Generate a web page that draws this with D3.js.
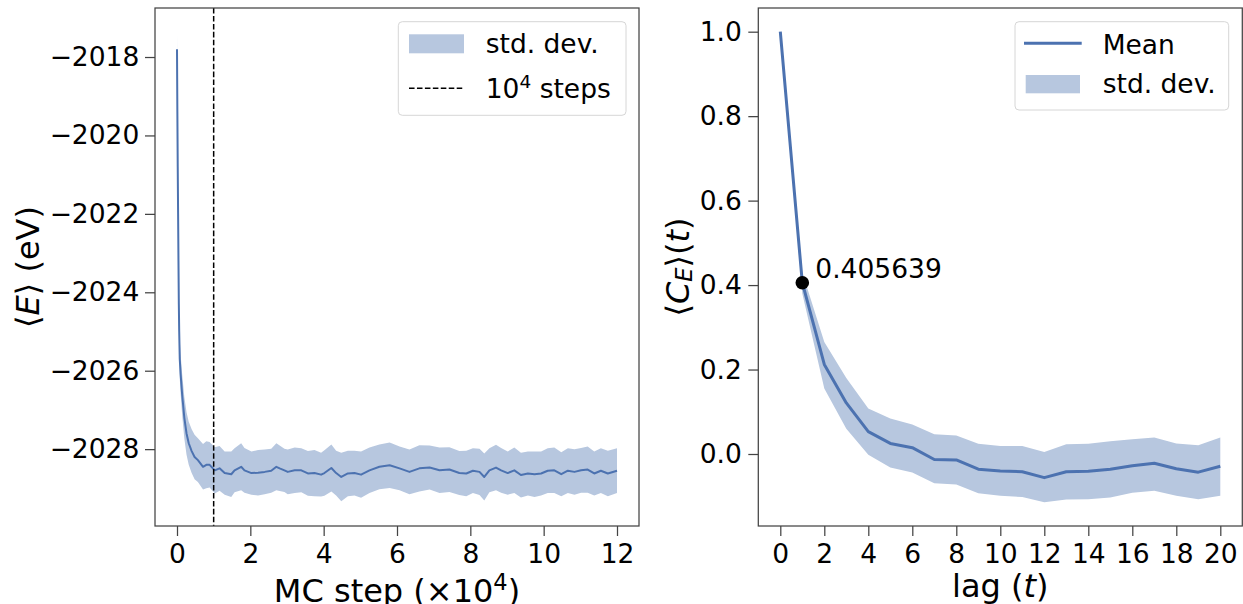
<!DOCTYPE html>
<html>
<head>
<meta charset="utf-8">
<script src="https://cdn.jsdelivr.net/npm/d3@7"></script>
<style>
  html, body { margin: 0; padding: 0; background: #fff; }
  svg { display: block; }
  text { font-family: "DejaVu Sans", sans-serif; fill: #000; }
</style>
</head>
<body>
<svg id="chart" width="1243" height="604"></svg>
<script>
// ---------- Left panel data: MC step (x10^4), mean energy (eV), std (eV) ----------
const mcSteps = [
  0, 0.01, 0.02, 0.03, 0.04, 0.05, 0.06, 0.075, 0.1, 0.14,
  0.2, 0.26, 0.32, 0.4, 0.48, 0.57, 0.71, 0.8, 0.89, 1.03,
  1.16, 1.30, 1.48, 1.57, 1.75, 1.84, 2.03, 2.21, 2.39, 2.57,
  2.71, 2.80, 2.93, 3.02, 3.21, 3.39, 3.57, 3.75, 3.93, 4.02,
  4.21, 4.34, 4.48, 4.66, 4.84, 5.02, 5.25, 5.52, 5.80, 6.07,
  6.34, 6.61, 6.89, 7.16, 7.43, 7.70, 7.89, 8.07, 8.25, 8.38,
  8.52, 8.70, 8.84, 9.02, 9.20, 9.38, 9.57, 9.75, 9.93, 10.11,
  10.29, 10.48, 10.66, 10.84, 11.02, 11.20, 11.38, 11.56, 11.75, 12.0
];
const energyMean = [
  -2017.80, -2019.40, -2020.80, -2022.00, -2023.20, -2024.30, -2025.00, -2025.70, -2026.10, -2026.60,
  -2027.20, -2027.60, -2027.85, -2028.05, -2028.20, -2028.28, -2028.45, -2028.40, -2028.40, -2028.54,
  -2028.49, -2028.61, -2028.64, -2028.54, -2028.45, -2028.54, -2028.61, -2028.60, -2028.58, -2028.55,
  -2028.45, -2028.49, -2028.54, -2028.58, -2028.54, -2028.54, -2028.62, -2028.61, -2028.65, -2028.61,
  -2028.48, -2028.61, -2028.71, -2028.62, -2028.61, -2028.65, -2028.54, -2028.45, -2028.41, -2028.49,
  -2028.58, -2028.49, -2028.47, -2028.54, -2028.52, -2028.61, -2028.62, -2028.55, -2028.58, -2028.71,
  -2028.54, -2028.47, -2028.54, -2028.61, -2028.54, -2028.66, -2028.62, -2028.64, -2028.62, -2028.55,
  -2028.54, -2028.64, -2028.55, -2028.58, -2028.54, -2028.52, -2028.62, -2028.55, -2028.62, -2028.55
];
const energyStd = [
  0.40, 0.42, 0.44, 0.45, 0.46, 0.47, 0.48, 0.49, 0.50, 0.52,
  0.53, 0.54, 0.55, 0.56, 0.57, 0.56, 0.58, 0.60, 0.58, 0.59,
  0.57, 0.55, 0.58, 0.56, 0.60, 0.57, 0.55, 0.58, 0.57, 0.56,
  0.60, 0.58, 0.55, 0.57, 0.58, 0.56, 0.57, 0.59, 0.56, 0.58,
  0.60, 0.57, 0.62, 0.58, 0.57, 0.59, 0.58, 0.57, 0.58, 0.56,
  0.57, 0.59, 0.56, 0.58, 0.57, 0.56, 0.58, 0.57, 0.59, 0.60,
  0.56, 0.58, 0.57, 0.55, 0.58, 0.57, 0.56, 0.58, 0.56, 0.57,
  0.58, 0.56, 0.57, 0.58, 0.57, 0.59, 0.56, 0.57, 0.58, 0.57
];
const equilStep = 1.0;
const leftXTicks = [0, 2, 4, 6, 8, 10, 12];
const leftYTicks = [-2028, -2026, -2024, -2022, -2020, -2018];

// ---------- Right panel data: autocorrelation vs lag ----------
const lags = [0, 1, 2, 3, 4, 5, 6, 7, 8, 9, 10, 11, 12, 13, 14, 15, 16, 17, 18, 19, 20];
const corrMean  = [1.0, 0.405639, 0.212, 0.121, 0.053, 0.025, 0.015, -0.013, -0.014, -0.036, -0.040, -0.042, -0.056, -0.042, -0.041, -0.036, -0.028, -0.022, -0.035, -0.043, -0.029];
const corrUpper = [1.0, 0.430, 0.265, 0.180, 0.108, 0.084, 0.070, 0.047, 0.044, 0.024, 0.019, 0.019, 0.005, 0.023, 0.024, 0.030, 0.035, 0.039, 0.025, 0.021, 0.039];
const corrLower = [1.0, 0.380, 0.155, 0.060, -0.002, -0.032, -0.044, -0.069, -0.072, -0.093, -0.099, -0.102, -0.114, -0.108, -0.107, -0.103, -0.092, -0.087, -0.099, -0.107, -0.099];
const markedLag = 1;
const rightXTicks = [0, 2, 4, 6, 8, 10, 12, 14, 16, 18, 20];
const rightYTicks = [0.0, 0.2, 0.4, 0.6, 0.8, 1.0];

// ---------- Styling ----------
const lineColor = "#4c72b0";
const bandColor = "#b7c7df";
const spineColor = "#444";
const tickFont = 26.5;
const labelFont = 32;

const svg = d3.select("#chart");

const L = { left: 155, right: 639, top: 8, bottom: 526 };
const R = { left: 758.3, right: 1242.3, top: 8, bottom: 526 };

const xL = d3.scaleLinear().domain([-0.6, 12.6]).range([L.left, L.right]);
const yL = d3.scaleLinear().domain([-2029.96, -2016.75]).range([L.bottom, L.top]);
const xR = d3.scaleLinear().domain([-1, 21]).range([R.left, R.right]);
const yR = d3.scaleLinear().domain([-0.1705, 1.0561]).range([R.bottom, R.top]);

function styleAxis(g) {
  g.select(".domain").remove();
  g.selectAll(".tick line").attr("stroke", spineColor).attr("stroke-width", 1.25);
  g.selectAll(".tick text").attr("font-size", tickFont).attr("fill", "#000")
    .attr("font-family", "DejaVu Sans, sans-serif");
}

// ===== Left panel =====
const leftData = mcSteps.map((s, i) => ({ s, m: energyMean[i], sd: energyStd[i] }));

svg.append("path")
  .datum(leftData)
  .attr("fill", bandColor)
  .attr("d", d3.area().x(d => xL(d.s)).y0(d => yL(d.m - d.sd)).y1(d => yL(d.m + d.sd)));

svg.append("path")
  .datum(leftData)
  .attr("fill", "none")
  .attr("stroke", lineColor)
  .attr("stroke-width", 2)
  .attr("stroke-linejoin", "round")
  .attr("d", d3.line().x(d => xL(d.s)).y(d => yL(d.m)));

svg.append("line")
  .attr("x1", xL(equilStep)).attr("x2", xL(equilStep))
  .attr("y1", L.top).attr("y2", L.bottom)
  .attr("stroke", "#000").attr("stroke-width", 1.5)
  .attr("stroke-dasharray", "5.55,2.4");

svg.append("g")
  .attr("transform", `translate(0,${L.bottom})`)
  .call(d3.axisBottom(xL).tickValues(leftXTicks).tickFormat(d3.format("d")).tickSize(10).tickSizeOuter(0).tickPadding(8))
  .call(styleAxis);

svg.append("g")
  .attr("transform", `translate(${L.left},0)`)
  .call(d3.axisLeft(yL).tickValues(leftYTicks).tickFormat(d3.format("d")).tickSize(10).tickSizeOuter(0).tickPadding(5.7))
  .call(styleAxis);

svg.append("rect")
  .attr("x", L.left).attr("y", L.top)
  .attr("width", L.right - L.left).attr("height", L.bottom - L.top)
  .attr("fill", "none").attr("stroke", spineColor).attr("stroke-width", 1.25);

// Left legend
const lg = svg.append("g");
lg.append("rect").attr("x", 398.3).attr("y", 21.7).attr("width", 227.7).attr("height", 93.6)
  .attr("rx", 4).attr("fill", "#fff").attr("fill-opacity", 0.85)
  .attr("stroke", "#d6d6d6").attr("stroke-width", 1);
lg.append("rect").attr("x", 409).attr("y", 34.3).attr("width", 55).attr("height", 19).attr("fill", bandColor);
lg.append("text").attr("x", 485.7).attr("y", 53.3).attr("font-size", tickFont).text("std. dev.");
lg.append("line").attr("x1", 409).attr("x2", 464).attr("y1", 88.3).attr("y2", 88.3)
  .attr("stroke", "#000").attr("stroke-width", 1.5).attr("stroke-dasharray", "5.55,2.4");
const t2 = lg.append("text").attr("x", 485.7).attr("y", 98.3).attr("font-size", tickFont);
t2.append("tspan").text("10");
t2.append("tspan").attr("font-size", 18.5).attr("dy", -10.5).text("4");
t2.append("tspan").attr("dy", 10.5).text(" steps");

// Left axis labels
const xlabL = svg.append("text").attr("x", (L.left + L.right) / 2).attr("y", 602)
  .attr("text-anchor", "middle").attr("font-size", labelFont);
xlabL.append("tspan").text("MC step (×10");
xlabL.append("tspan").attr("font-size", 22.5).attr("dy", -12.5).text("4");
xlabL.append("tspan").attr("dy", 12.5).text(")");

const ylabL = svg.append("text")
  .attr("transform", `translate(27.5,${(L.top + L.bottom) / 2}) rotate(-90)`)
  .attr("text-anchor", "middle").attr("dominant-baseline", "central").attr("font-size", labelFont);
ylabL.append("tspan").text("⟨");
ylabL.append("tspan").attr("font-style", "italic").text("E");
ylabL.append("tspan").text("⟩ (eV)");

// ===== Right panel =====
const rightData = lags.map((l, i) => ({ l, m: corrMean[i], lo: corrLower[i], hi: corrUpper[i] }));

svg.append("path")
  .datum(rightData)
  .attr("fill", bandColor)
  .attr("d", d3.area().x(d => xR(d.l)).y0(d => yR(d.lo)).y1(d => yR(d.hi)));

svg.append("path")
  .datum(rightData)
  .attr("fill", "none")
  .attr("stroke", lineColor)
  .attr("stroke-width", 3)
  .attr("stroke-linejoin", "round")
  .attr("d", d3.line().x(d => xR(d.l)).y(d => yR(d.m)));

const mk = rightData[lags.indexOf(markedLag)];
svg.append("circle").attr("cx", xR(mk.l)).attr("cy", yR(mk.m)).attr("r", 6.8).attr("fill", "#000");
svg.append("text").attr("x", xR(mk.l) + 13).attr("y", yR(mk.m) - 4.4)
  .attr("font-size", tickFont).text(d3.format(".6f")(mk.m));

svg.append("g")
  .attr("transform", `translate(0,${R.bottom})`)
  .call(d3.axisBottom(xR).tickValues(rightXTicks).tickFormat(d3.format("d")).tickSize(10).tickSizeOuter(0).tickPadding(8))
  .call(styleAxis);

svg.append("g")
  .attr("transform", `translate(${R.left},0)`)
  .call(d3.axisLeft(yR).tickValues(rightYTicks).tickFormat(d3.format(".1f")).tickSize(10).tickSizeOuter(0).tickPadding(6.5))
  .call(styleAxis);

svg.append("rect")
  .attr("x", R.left).attr("y", R.top)
  .attr("width", R.right - R.left).attr("height", R.bottom - R.top)
  .attr("fill", "none").attr("stroke", spineColor).attr("stroke-width", 1.25);

// Right legend
const rg = svg.append("g");
rg.append("rect").attr("x", 1015).attr("y", 21.7).attr("width", 213.7).attr("height", 88.3)
  .attr("rx", 4).attr("fill", "#fff").attr("fill-opacity", 0.85)
  .attr("stroke", "#d6d6d6").attr("stroke-width", 1);
rg.append("line").attr("x1", 1024).attr("x2", 1081.7).attr("y1", 43.3).attr("y2", 43.3)
  .attr("stroke", lineColor).attr("stroke-width", 3);
rg.append("text").attr("x", 1102.7).attr("y", 54.3).attr("font-size", tickFont).text("Mean");
rg.append("rect").attr("x", 1025.7).attr("y", 75).attr("width", 54.3).attr("height", 18.3).attr("fill", bandColor);
rg.append("text").attr("x", 1102.7).attr("y", 93.3).attr("font-size", tickFont).text("std. dev.");

// Right axis labels
const xlabR = svg.append("text").attr("x", (R.left + R.right) / 2).attr("y", 597)
  .attr("text-anchor", "middle").attr("font-size", labelFont);
xlabR.append("tspan").text("lag (");
xlabR.append("tspan").attr("font-style", "italic").text("t");
xlabR.append("tspan").text(")");

const ylabR = svg.append("text")
  .attr("transform", `translate(678,${(R.top + R.bottom) / 2}) rotate(-90)`)
  .attr("text-anchor", "middle").attr("dominant-baseline", "central").attr("font-size", labelFont);
ylabR.append("tspan").text("⟨");
ylabR.append("tspan").attr("font-style", "italic").text("C");
ylabR.append("tspan").attr("font-style", "italic").attr("font-size", 22.5).attr("dy", 6).text("E");
ylabR.append("tspan").attr("dy", -6).text("⟩(");
ylabR.append("tspan").attr("font-style", "italic").text("t");
ylabR.append("tspan").text(")");
</script>
</body>
</html>
